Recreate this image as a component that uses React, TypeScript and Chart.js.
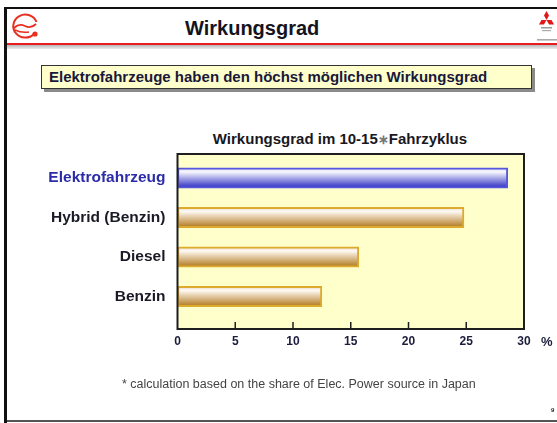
import React, { useEffect, useRef } from "react";
import { Chart, registerables } from "chart.js";

Chart.register(...registerables);

const categories = ["Elektrofahrzeug", "Hybrid (Benzin)", "Diesel", "Benzin"];
const efficiency = [28.6, 24.8, 15.7, 12.5];
const xTickValues = [0, 5, 10, 15, 20, 25, 30];

const FONT = "'Liberation Sans', Arial, sans-serif";

function makeGradient(ctx: CanvasRenderingContext2D, yMid: number, half: number, blue: boolean) {
  const g = ctx.createLinearGradient(0, yMid - half, 0, yMid + half);
  if (blue) {
    g.addColorStop(0, "#d0d0ec");
    g.addColorStop(0.2, "#f8f8ff");
    g.addColorStop(1, "#2626c0");
  } else {
    g.addColorStop(0, "#e4d4c6");
    g.addColorStop(0.2, "#fffaf4");
    g.addColorStop(1, "#ae7416");
  }
  return g;
}

const plotDecor = {
  id: "plotDecor",
  beforeDatasetsDraw(chart: any) {
    const { ctx, chartArea: a } = chart;
    ctx.save();
    ctx.fillStyle = "#ffffcc";
    ctx.fillRect(a.left, a.top, a.right - a.left, a.bottom - a.top);
    ctx.restore();
  },
  afterDatasetsDraw(chart: any) {
    const { ctx, chartArea: a, scales } = chart;
    ctx.save();
    ctx.strokeStyle = "#1e1e1e";
    ctx.lineWidth = 2;
    ctx.strokeRect(a.left, a.top, a.right - a.left, a.bottom - a.top);
    ctx.lineWidth = 1.5;
    scales.x.ticks.forEach((t: any) => {
      const px = scales.x.getPixelForValue(t.value);
      if (px <= a.left + 1 || px >= a.right - 1) return;
      ctx.beginPath();
      ctx.moveTo(px, a.bottom);
      ctx.lineTo(px, a.bottom - 7);
      ctx.stroke();
    });
    ctx.restore();
  },
};

function EfficiencyChart() {
  const ref = useRef<HTMLCanvasElement>(null);
  useEffect(() => {
    if (!ref.current) return;
    const chart = new Chart(ref.current, {
      type: "bar",
      data: {
        datasets: [
          {
            data: categories.map((c, i) => ({ x: efficiency[i], y: i })) as any,
            backgroundColor: (c: any) => {
              const ch = c.chart;
              if (!ch.chartArea || c.parsed == null) return "#ccc";
              const y = ch.scales.y.getPixelForValue(c.dataIndex);
              return makeGradient(ch.ctx, y, 10.25, c.dataIndex === 0);
            },
            borderColor: (c: any) => (c.dataIndex === 0 ? "#5656dc" : "#dcaa2c"),
            borderWidth: 2,
            borderSkipped: false,
            barThickness: 20.5,
          } as any,
        ],
      },
      options: {
        indexAxis: "y",
        responsive: false,
        animation: false,
        layout: { padding: { top: 154, right: 33, bottom: 64, left: 0 } },
        plugins: {
          legend: { display: false },
          title: { display: false },
          tooltip: { enabled: false },
        },
        scales: {
          x: {
            type: "linear",
            min: 0,
            max: 30,
            offset: false,
            afterBuildTicks: (axis: any) => {
              axis.ticks = xTickValues.map((v) => ({ value: v }));
            },
            afterFit: (s: any) => {
              s.height = 30;
            },
            grid: { display: false, drawTicks: false },
            border: { display: false },
            ticks: {
              padding: 5,
              color: "#1c1c3c",
              font: { family: FONT, size: 12, weight: "bold" },
              maxRotation: 0,
            },
          },
          y: {
            type: "linear",
            reverse: true,
            offset: false,
            min: -0.608,
            max: 3.823,
            afterBuildTicks: (axis: any) => {
              axis.ticks = categories.map((_, i) => ({ value: i }));
            },
            afterFit: (s: any) => {
              s.width = 177.5;
            },
            grid: { display: false, drawTicks: false, offset: false },
            border: { display: false },
            ticks: {
              padding: 12,
              callback: (v: any) => categories[v as number] ?? "",
              color: (c: any) => (c.tick && c.tick.value === 0 ? "#2c2ca8" : "#1a1a26"),
              font: { family: FONT, size: 15.5, weight: "bold" },
            },
          },
        },
      } as any,
      plugins: [plotDecor],
    });
    return () => chart.destroy();
  }, []);
  return (
    <canvas
      ref={ref}
      width={557}
      height={423}
      style={{ position: "absolute", left: 0, top: 0, width: 557, height: 423 }}
    />
  );
}

export default function App() {
  const abs = (s: React.CSSProperties): React.CSSProperties => ({ position: "absolute", ...s });
  return (
    <div
      style={{
        position: "fixed",
        left: 0,
        top: 0,
        width: 557,
        height: 423,
        background: "#ffffff",
        overflow: "hidden",
        fontFamily: FONT,
      }}
    >
      {/* slide frame */}
      <div style={abs({ left: 4, top: 7, width: 553, height: 2, background: "#111" })} />
      <div style={abs({ left: 4, top: 7, width: 3, height: 416, background: "#111" })} />
      <div style={abs({ left: 7, top: 43, width: 550, height: 2, background: "#e81c1c" })} />
      <div
        style={abs({
          left: 7,
          top: 45,
          width: 550,
          height: 4,
          background: "linear-gradient(#b8b8b8, #ececec)",
        })}
      />
      <div style={abs({ left: 7, top: 420, width: 550, height: 2, background: "#555" })} />

      {/* left logo */}
      <svg style={abs({ left: 9, top: 11, width: 32, height: 30 })} viewBox="0 0 32 30">
        <path
          d="M 25 23 A 12 11.5 0 1 1 27.5 11"
          fill="none"
          stroke="#e83020"
          strokeWidth="2"
        />
        <path d="M 5 17 Q 10 12 16 15 Q 22 18 27 13" fill="none" stroke="#e83020" strokeWidth="1.8" />
        <path d="M 6 19 Q 12 22 20 21" fill="none" stroke="#e83020" strokeWidth="1.5" />
        <circle cx="26" cy="23" r="2.6" fill="#e83020" />
      </svg>

      {/* right logo */}
      <svg style={abs({ left: 537, top: 11, width: 20, height: 32 })} viewBox="0 0 20 32">
        <polygon points="9.5,0 12,4.5 9.5,9 7,4.5" fill="#e01818" />
        <polygon points="4.5,9 9.5,9 7,13.5 2,13.5" fill="#e01818" />
        <polygon points="9.5,9 14.5,9 17,13.5 12,13.5" fill="#e01818" />
        <rect x="4" y="16" width="11" height="1.5" fill="#999" />
        <rect x="5" y="19" width="9" height="1.2" fill="#aaa" />
        <rect x="0" y="28" width="20" height="1.6" fill="#aaa" />
      </svg>

      <div
        style={abs({
          left: 185,
          top: 17,
          fontSize: 20,
          lineHeight: "22px",
          fontWeight: "bold",
          color: "#141420",
          whiteSpace: "nowrap",
        })}
      >
        Wirkungsgrad
      </div>

      {/* message box */}
      <div
        style={abs({
          left: 41,
          top: 65,
          width: 491,
          height: 24,
          border: "1px solid #333",
          background: "#ffffcc",
          boxShadow: "3px 3px 0 #8a8a8a",
          boxSizing: "border-box",
        })}
      />
      <div
        style={abs({
          left: 49,
          top: 67,
          fontSize: 15,
          lineHeight: "20px",
          fontWeight: "bold",
          color: "#18183a",
          whiteSpace: "nowrap",
        })}
      >
        Elektrofahrzeuge haben den höchst möglichen Wirkungsgrad
      </div>

      {/* chart title */}
      <div
        style={abs({
          left: 150,
          top: 130,
          width: 380,
          textAlign: "center",
          fontSize: 15,
          lineHeight: "18px",
          fontWeight: "bold",
          color: "#18181e",
          whiteSpace: "nowrap",
        })}
      >
        Wirkungsgrad im 10-15<span style={{ color: "#777", fontSize: 13 }}>∗</span>Fahrzyklus
      </div>

      <EfficiencyChart />

      <div
        style={abs({
          left: 541,
          top: 333,
          fontSize: 13,
          lineHeight: "17px",
          fontWeight: "bold",
          color: "#1c1c3c",
        })}
      >
        %
      </div>

      <div
        style={abs({
          left: 122,
          top: 376,
          fontSize: 12.5,
          lineHeight: "16px",
          color: "#444",
          whiteSpace: "nowrap",
        })}
      >
        * calculation based on the share of Elec. Power source in Japan
      </div>

      <div
        style={abs({
          left: 551,
          top: 406,
          fontSize: 6,
          lineHeight: "8px",
          fontWeight: "bold",
          color: "#222",
        })}
      >
        9
      </div>
    </div>
  );
}
